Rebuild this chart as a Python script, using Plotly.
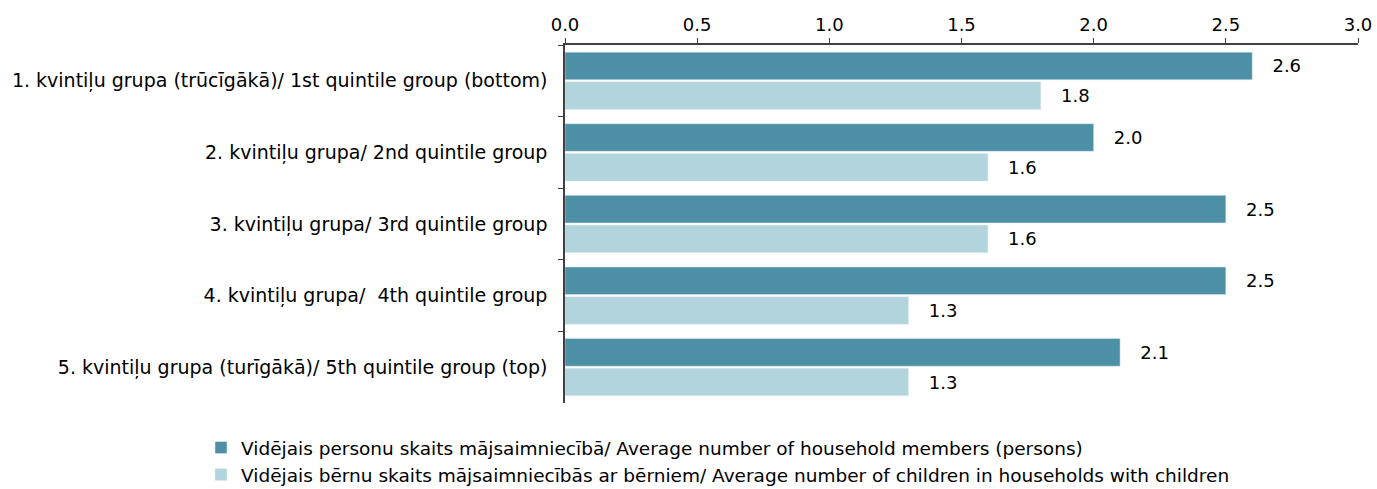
import plotly.graph_objects as go

groups = [
    "1. kvintiļu grupa (trūcīgākā)/ 1st quintile group (bottom)",
    "2. kvintiļu grupa/ 2nd quintile group",
    "3. kvintiļu grupa/ 3rd quintile group",
    "4. kvintiļu grupa/  4th quintile group",
    "5. kvintiļu grupa (turīgākā)/ 5th quintile group (top)",
]
members = [2.6, 2.0, 2.5, 2.5, 2.1]
children = [1.8, 1.6, 1.6, 1.3, 1.3]

name_members = "Vidējais personu skaits mājsaimniecībā/ Average number of household members (persons)"
name_children = "Vidējais bērnu skaits mājsaimniecībās ar bērniem/ Average number of children in households with children"

font = "DejaVu Sans"

fig = go.Figure()
fig.add_trace(go.Bar(y=groups, x=members, name=name_members, orientation="h",
                     marker_color="#4d90a6", legendgroup="a",
                     texttemplate="\u00a0\u00a0\u00a0%{x:.1f}", textposition="outside",
                     textfont=dict(size=18), cliponaxis=False))
fig.add_trace(go.Bar(y=groups, x=children, name=name_children, orientation="h",
                     marker_color="#b2d4dc", legendgroup="b",
                     texttemplate="\u00a0\u00a0\u00a0%{x:.1f}", textposition="outside",
                     textfont=dict(size=18), cliponaxis=False))

fig.update_layout(
    width=1377, height=489,
    margin=dict(l=565, r=19, t=45, b=86),
    barmode="group", bargap=0.17, bargroupgap=0.07,
    plot_bgcolor="white", paper_bgcolor="white",
    font=dict(family=font, size=18.5, color="black"),
    legend=dict(x=-0.459, xanchor="left", yref="container", y=0.1227, yanchor="top",
                orientation="v", traceorder="normal", itemwidth=30,
                font=dict(size=18.5), tracegroupgap=10),
)
fig.update_xaxes(side="top", range=[0, 3.0], dtick=0.5, tickformat=".1f",
                 showgrid=False, zeroline=False, showline=True,
                 linecolor="#404040", linewidth=1.5, ticks="outside",
                 ticklen=5, tickcolor="#404040", tickfont=dict(size=18),
                 automargin=False)
fig.update_yaxes(autorange="reversed", showgrid=False, showline=True,
                 linecolor="#404040", linewidth=1.5, ticks="outside",
                 tickson="boundaries", ticklen=5, tickcolor="#404040",
                 tickfont=dict(size=19), ticklabelstandoff=12, automargin=False)

# drop the default body margin and scrollbars so the figure fills the window exactly
fig.write_html("out.html", config={"displayModeBar": False},
               post_script="document.body.style.margin = '0';"
                           "document.documentElement.style.overflow = 'hidden';")
